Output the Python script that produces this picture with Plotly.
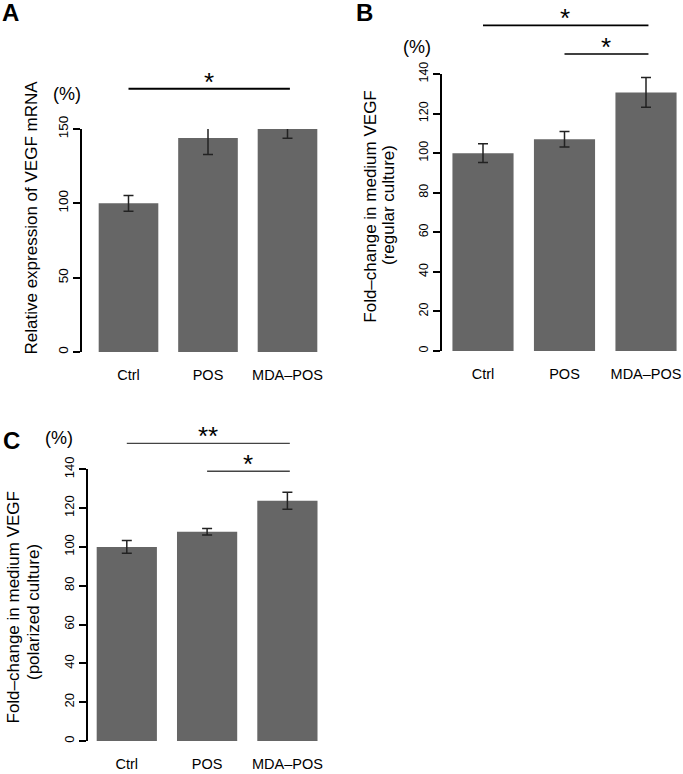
import plotly.graph_objects as go

W, H = 683, 774

categories = ["Ctrl", "POS", "MDA\u2013POS"]

# panel A: VEGF mRNA
mrna_mean = [100, 144, 150]
mrna_err = [5.3, 11.2, 6.2]
mrna_ticks = [0, 50, 100, 150]
mrna_sig = [(0, 2, 177, "*")]

# panel B: medium VEGF, regular culture
regular_mean = [100, 107, 130.7]
regular_err = [4.7, 3.9, 7.5]
regular_ticks = [0, 20, 40, 60, 80, 100, 120, 140]
regular_sig = [(0, 2, 164.6, "*"), (1, 2, 150.1, "*")]

# panel C: medium VEGF, polarized culture
polarized_mean = [100, 107.8, 123.8]
polarized_err = [3.3, 1.7, 4.4]
polarized_ticks = [0, 20, 40, 60, 80, 100, 120, 140]
polarized_sig = [(0, 2, 153.4, "**"), (1, 2, 139, "*")]

SANS = "Liberation Sans, Arial, Helvetica, sans-serif"


def px(x):
    return x / W


def py(y):
    return 1 - y / H


# pixel geometry of each panel (axis line, first bar centre, bar step, right edge, y0, ytop)
panels = [
    dict(mean=mrna_mean, err=mrna_err, ticks=mrna_ticks, sig=mrna_sig, letter="A",
         axis_px=82, c0=128.5, step=79.5, right_px=331, y0_px=352, ytop_px=129,
         tickfont=13.5, sigw=2.0, sigcol="black",
         letter_xy=(10, 13), pct_xy=(66.5, 94),
         titles=[("Relative expression of VEGF mRNA", 31, 217.5)]),
    dict(mean=regular_mean, err=regular_err, ticks=regular_ticks, sig=regular_sig, letter="B",
         axis_px=441.5, c0=483, step=81.5, right_px=683, y0_px=351, ytop_px=74,
         tickfont=12.5, sigw=1.6, sigcol="black",
         letter_xy=(364, 13), pct_xy=(416.7, 46.7),
         titles=[("Fold\u2013change in medium VEGF", 371, 206.7), ("(regular culture)", 389, 205)]),
    dict(mean=polarized_mean, err=polarized_err, ticks=polarized_ticks, sig=polarized_sig, letter="C",
         axis_px=88.3, c0=126.8, step=80.3, right_px=330, y0_px=741, ytop_px=469.3,
         tickfont=13, sigw=1.3, sigcol="#444444",
         letter_xy=(11, 440), pct_xy=(59.2, 437.5),
         titles=[("Fold\u2013change in medium VEGF", 12.5, 608), ("(polarized culture)", 33, 612)]),
]

fig = go.Figure()
layout = {}
shapes = []
annotations = []

for i, p in enumerate(panels, start=1):
    xname = "x" if i == 1 else f"x{i}"
    yname = "y" if i == 1 else f"y{i}"
    xkey = "xaxis" if i == 1 else f"xaxis{i}"
    ykey = "yaxis" if i == 1 else f"yaxis{i}"
    ymax = p["ticks"][-1]
    dom_y = [py(p["y0_px"]), py(p["ytop_px"])]

    fig.add_trace(go.Bar(
        x=list(range(len(categories))), y=p["mean"],
        xaxis=xname, yaxis=yname,
        width=0.75,
        marker=dict(color="#666666", line=dict(width=0)),
        error_y=dict(type="data", array=p["err"], color="#222222", thickness=1.5, width=5),
        showlegend=False, hoverinfo="skip",
    ))

    layout[xkey] = dict(
        domain=[px(p["axis_px"]), px(p["right_px"])],
        range=[(p["axis_px"] - p["c0"]) / p["step"], (p["right_px"] - p["c0"]) / p["step"]],
        anchor=yname, tickvals=list(range(len(categories))), ticktext=categories,
        showline=False, showgrid=False, zeroline=False, ticks="",
        tickfont=dict(family=SANS, size=14.5, color="black"), ticklabelstandoff=12,
        ticklabeloverflow="allow", automargin=False, fixedrange=True,
    )
    layout[ykey] = dict(
        domain=dom_y, range=[0, ymax], anchor=xname,
        tickvals=p["ticks"], tickangle=-90,
        showline=True, linewidth=2, linecolor="black",
        ticks="outside", ticklen=7, tickwidth=2, tickcolor="black",
        showgrid=False, zeroline=False,
        tickfont=dict(family=SANS, size=p["tickfont"], color="black"),
        automargin=False, fixedrange=True,
    )

    def yval(v, d=dom_y, m=ymax):
        return d[0] + v / m * (d[1] - d[0])

    for left, right, h, label in p["sig"]:
        shapes.append(dict(type="line", xref=xname, yref="paper",
                           x0=left, x1=right + 0.03, y0=yval(h), y1=yval(h),
                           line=dict(color=p["sigcol"], width=p["sigw"])))
        annotations.append(dict(text=label, xref=xname, yref="paper",
                                x=(left + right) / 2 + 0.01, y=yval(h),
                                xanchor="center", yanchor="bottom", yshift=-10,
                                showarrow=False, font=dict(family=SANS, size=26, color="black")))

    lx, ly = p["letter_xy"]
    annotations.append(dict(text="<b>" + p["letter"] + "</b>", xref="paper", yref="paper",
                            x=px(lx), y=py(ly), xanchor="center", yanchor="middle",
                            showarrow=False, font=dict(family=SANS, size=24, color="black")))
    cx, cy = p["pct_xy"]
    annotations.append(dict(text="(%)", xref="paper", yref="paper",
                            x=px(cx), y=py(cy), xanchor="center", yanchor="middle",
                            showarrow=False, font=dict(family=SANS, size=18, color="black")))
    for text, tx, ty in p["titles"]:
        annotations.append(dict(text=text, xref="paper", yref="paper",
                                x=px(tx), y=py(ty), xanchor="center", yanchor="middle",
                                textangle=-90, showarrow=False,
                                font=dict(family=SANS, size=17, color="black")))

fig.update_layout(
    width=W, height=H,
    margin=dict(l=0, r=0, t=0, b=0, autoexpand=False),
    paper_bgcolor="white", plot_bgcolor="white",
    font=dict(family=SANS, color="black"),
    shapes=shapes, annotations=annotations,
    **layout,
)

# the page body has a default margin; drop it so the figure sits at 0,0
fig.write_html("out.html", config={"displayModeBar": False, "staticPlot": True},
               post_script="document.body.style.margin='0';")
